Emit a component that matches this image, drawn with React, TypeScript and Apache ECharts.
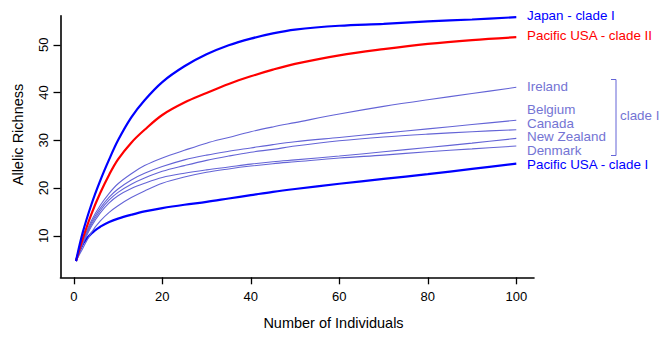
import React, { useEffect, useRef } from "react";
import * as echarts from "echarts";

const xs = [0.5, 2, 4, 6, 8, 10, 13, 16, 20, 25, 30, 35, 40, 45, 50, 60, 70, 80, 90, 100];

const japan = [4.7, 10.6, 16.6, 21.6, 26.0, 30.0, 34.8, 38.4, 42.2, 45.5, 48.0, 49.9, 51.3, 52.4, 53.2, 54.0, 54.4, 54.9, 55.3, 55.8];
const pacificII = [4.7, 9.3, 14.6, 19.0, 22.8, 26.0, 29.5, 32.2, 35.3, 37.9, 39.9, 41.8, 43.4, 44.8, 46.0, 47.8, 49.1, 50.2, 51.0, 51.6];
const ireland = [4.7, 8.8, 13.2, 16.4, 18.9, 20.9, 23.0, 24.7, 26.3, 27.9, 29.4, 30.6, 31.8, 32.8, 33.7, 35.5, 37.1, 38.5, 39.8, 41.1];
const belgium = [4.7, 8.6, 12.8, 15.8, 18.1, 19.8, 21.7, 23.1, 24.5, 25.9, 26.9, 27.7, 28.4, 29.1, 29.7, 30.6, 31.5, 32.4, 33.3, 34.2];
const canada = [4.7, 8.4, 12.4, 15.3, 17.5, 19.1, 20.8, 22.1, 23.5, 24.7, 25.8, 26.7, 27.5, 28.1, 28.8, 29.9, 30.7, 31.3, 31.8, 32.2];
const newZealand = [4.7, 8.2, 12.0, 14.8, 16.9, 18.4, 19.9, 21.0, 22.2, 23.1, 23.8, 24.4, 25.0, 25.5, 25.9, 26.7, 27.6, 28.5, 29.4, 30.4];
const denmark = [4.7, 7.3, 10.7, 13.1, 14.9, 16.3, 18.0, 19.4, 21.0, 22.3, 23.3, 24.0, 24.6, 25.1, 25.5, 26.3, 26.9, 27.6, 28.2, 28.8];
const pacificI = [4.7, 8.2, 10.5, 11.9, 12.9, 13.6, 14.4, 15.1, 15.8, 16.5, 17.1, 17.8, 18.5, 19.2, 19.8, 20.9, 21.9, 22.9, 24.0, 25.1];

const xTicks = [0, 20, 40, 60, 80, 100];
const yTicks = [10, 20, 30, 40, 50];

const BLUE = "#0000ff";
const RED = "#ff0000";
const LIGHT = "#6464d6";
const LIGHT_TEXT = "#7474d4";
const FONT = "'Liberation Sans', Arial, Helvetica, sans-serif";

const seriesDefs = [
  { name: "Pacific USA - clade I", data: pacificI, color: BLUE, width: 2.2 },
  { name: "Denmark", data: denmark, color: LIGHT, width: 1.1 },
  { name: "New Zealand", data: newZealand, color: LIGHT, width: 1.1 },
  { name: "Canada", data: canada, color: LIGHT, width: 1.1 },
  { name: "Belgium", data: belgium, color: LIGHT, width: 1.1 },
  { name: "Ireland", data: ireland, color: LIGHT, width: 1.1 },
  { name: "Pacific USA - clade II", data: pacificII, color: RED, width: 2.2 },
  { name: "Japan - clade I", data: japan, color: BLUE, width: 2.2 },
];

const rightLabels = [
  { text: "Japan - clade I", y: 15.5, color: BLUE },
  { text: "Pacific USA - clade II", y: 35.5, color: RED },
  { text: "Ireland", y: 86, color: LIGHT_TEXT },
  { text: "Belgium", y: 109.5, color: LIGHT_TEXT },
  { text: "Canada", y: 123, color: LIGHT_TEXT },
  { text: "New Zealand", y: 136.5, color: LIGHT_TEXT },
  { text: "Denmark", y: 150, color: LIGHT_TEXT },
  { text: "Pacific USA - clade I", y: 164, color: BLUE },
];

export default function App() {
  const ref = useRef<HTMLDivElement>(null);
  useEffect(() => {
    if (!ref.current) return;
    const chart = echarts.init(ref.current, null, { renderer: "svg" });
    const graphics: any[] = rightLabels.map((l) => ({
      type: "text",
      x: 527,
      y: l.y,
      style: {
        text: l.text,
        fill: l.color,
        font: `13.4px ${FONT}`,
        lineHeight: 12,
        verticalAlign: "middle",
        align: "left",
      },
    }));
    graphics.push({
      type: "polyline",
      shape: { points: [[611, 79.5], [616, 79.5], [616, 155.5], [611, 155.5]] },
      style: { stroke: LIGHT, lineWidth: 1, fill: "none" },
    });
    graphics.push({
      type: "text",
      x: 620,
      y: 115,
      style: {
        text: "clade I",
        fill: LIGHT_TEXT,
        font: `13.4px ${FONT}`,
        verticalAlign: "middle",
        align: "left",
      },
    });
    graphics.push({
      type: "text",
      x: 18.3,
      y: 134.5,
      rotation: Math.PI / 2,
      style: {
        text: "Allelic Richness",
        fill: "#000",
        font: `14.5px ${FONT}`,
        align: "center",
        verticalAlign: "middle",
      },
    });
    graphics.push({
      type: "text",
      x: 333.5,
      y: 322.7,
      style: {
        text: "Number of Individuals",
        fill: "#000",
        font: `14.5px ${FONT}`,
        align: "center",
        verticalAlign: "middle",
      },
    });
    chart.setOption({
      animation: false,
      backgroundColor: "#ffffff",
      grid: { left: 60.5, top: 15.7, width: 473.5, height: 261.6, containLabel: false },
      xAxis: {
        type: "value",
        min: -3,
        max: 104,
        axisLine: { show: true, onZero: false, lineStyle: { color: "#000", width: 1.6 } },
        axisTick: { show: true, length: 7, customValues: xTicks, lineStyle: { color: "#000", width: 1.3 } },
        axisLabel: {
          customValues: xTicks,
          margin: 13,
          color: "#000",
          fontSize: 13,
          fontFamily: FONT,
        },
        splitLine: { show: false },
      },
      yAxis: {
        type: "value",
        min: 1.3,
        max: 56.1,
        axisLine: { show: true, onZero: false, lineStyle: { color: "#000", width: 1.6 } },
        axisTick: { show: true, length: 7, customValues: yTicks, lineStyle: { color: "#000", width: 1.3 } },
        axisLabel: {
          customValues: yTicks,
          rotate: 90,
          margin: 11,
          color: "#000",
          fontSize: 13,
          fontFamily: FONT,
        },
        splitLine: { show: false },
      },
      series: seriesDefs.map((s) => ({
        name: s.name,
        type: "line",
        data: xs.map((x, i) => [x, s.data[i]]),
        showSymbol: false,
        smooth: 0.35,
        lineStyle: { color: s.color, width: s.width },
        itemStyle: { color: s.color },
        silent: true,
      })),
      graphic: graphics,
    });
    return () => chart.dispose();
  }, []);
  return (
    <div
      ref={ref}
      style={{ position: "fixed", left: 0, top: 0, width: 665, height: 337, background: "#fff" }}
    />
  );
}
